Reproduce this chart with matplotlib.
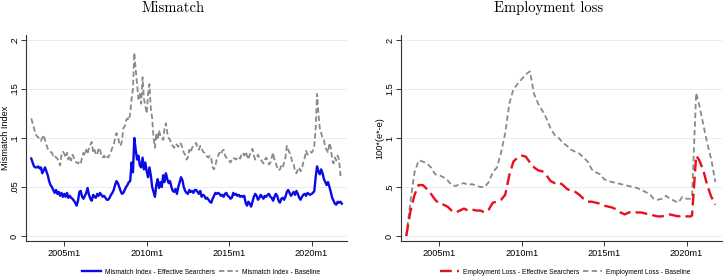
import numpy as np
import matplotlib
matplotlib.use("Agg")
import matplotlib.pyplot as plt

# ---------------- Data ----------------
# Monthly series, 2003m1 .. 2021m11
mm_start = "2003m1"
mismatch_eff = [
    .079,.075,.071,.070,.070,.071,.069,.070,.064,.067,.070,.066,
    .062,.056,.052,.050,.047,.044,.047,.043,.045,.041,.044,.040,
    .043,.040,.044,.039,.041,.039,.038,.036,.034,.031,.036,.045,
    .046,.040,.038,.041,.044,.049,.042,.038,.036,.042,.040,.039,
    .043,.041,.044,.042,.040,.041,.039,.037,.037,.039,.042,.044,
    .047,.052,.056,.054,.050,.046,.043,.044,.047,.050,.052,.055,
    .056,.075,.065,.100,.088,.078,.082,.072,.070,.080,.068,.075,
    .066,.060,.070,.062,.050,.045,.040,.052,.058,.049,.055,.050,
    .062,.055,.064,.058,.054,.056,.050,.046,.045,.048,.043,.050,
    .055,.060,.057,.050,.046,.044,.043,.047,.045,.046,.044,.047,
    .047,.045,.043,.046,.040,.042,.041,.038,.039,.037,.035,.034,
    .038,.041,.044,.043,.044,.043,.041,.042,.040,.043,.044,.041,
    .040,.038,.039,.044,.042,.043,.041,.042,.040,.041,.040,.041,
    .034,.031,.035,.033,.030,.035,.040,.043,.041,.037,.039,.042,
    .040,.038,.041,.040,.042,.043,.040,.039,.036,.040,.043,.041,
    .036,.034,.038,.039,.037,.040,.045,.047,.044,.041,.043,.045,
    .042,.046,.043,.039,.037,.040,.042,.043,.041,.044,.043,.042,
    .043,.044,.046,.060,.071,.066,.063,.068,.064,.058,.055,.052,
    .055,.050,.045,.039,.036,.033,.032,.035,.034,.035,.033,
]
mismatch_base = [
    .120,.115,.110,.104,.102,.101,.098,.097,.100,.103,.098,.093,
    .089,.087,.086,.085,.082,.083,.080,.079,.076,.072,.083,.086,
    .084,.080,.085,.078,.082,.077,.083,.080,.076,.075,.074,.076,
    .074,.080,.085,.082,.088,.084,.090,.093,.096,.085,.088,.083,
    .083,.090,.088,.082,.080,.082,.079,.081,.080,.083,.086,.090,
    .093,.100,.105,.102,.095,.092,.097,.110,.112,.118,.120,.118,
    .125,.140,.150,.187,.170,.155,.140,.145,.135,.162,.140,.133,
    .125,.145,.155,.130,.120,.100,.090,.105,.098,.108,.102,.100,
    .098,.110,.115,.105,.100,.098,.094,.092,.090,.094,.093,.091,
    .095,.094,.090,.085,.083,.078,.080,.088,.085,.090,.092,.093,
    .095,.090,.088,.092,.089,.086,.085,.083,.081,.080,.082,.079,
    .070,.068,.072,.078,.082,.085,.083,.087,.088,.082,.080,.078,
    .077,.075,.078,.080,.079,.078,.080,.081,.079,.083,.085,.082,
    .086,.082,.078,.083,.086,.089,.082,.078,.080,.083,.079,.078,
    .076,.074,.078,.080,.077,.073,.075,.080,.085,.078,.074,.070,
    .067,.068,.072,.070,.075,.080,.092,.088,.085,.081,.075,.073,
    .066,.064,.068,.070,.066,.069,.075,.080,.087,.083,.085,.086,
    .085,.087,.092,.110,.145,.125,.110,.105,.100,.098,.090,.088,
    .085,.095,.090,.078,.074,.080,.077,.082,.078,.062,.065,
]

# Employment loss: dates (Stata monthly labels) and values
el_dates = [
    "2003m1","2003m4","2003m7","2003m10","2004m1","2004m4","2004m7","2004m10",
    "2005m1","2005m4","2005m7","2005m10","2006m1","2006m4","2006m7","2006m10",
    "2007m1","2007m4","2007m7","2007m10","2008m1","2008m4","2008m7","2008m10",
    "2009m1","2009m4","2009m7","2009m10","2010m1","2010m4","2010m7","2010m10",
    "2011m1","2011m4","2011m7","2011m10","2012m1","2012m4","2012m7","2012m10",
    "2013m1","2013m4","2013m7","2013m10","2014m1","2014m4","2014m7","2014m10",
    "2015m1","2015m4","2015m7","2015m10","2016m1","2016m4","2016m7","2016m10",
    "2017m1","2017m4","2017m7","2017m10","2018m1","2018m4","2018m7","2018m10",
    "2019m1","2019m4","2019m7","2019m10","2020m1","2020m4","2020m5","2020m8",
    "2020m10","2021m1","2021m4","2021m7","2021m10",
]
emp_loss_eff = [
    0.00,0.25,0.42,0.52,0.52,0.48,0.43,0.37,
    0.33,0.32,0.30,0.26,0.24,0.26,0.28,0.26,
    0.27,0.26,0.26,0.24,0.27,0.34,0.35,0.37,
    0.42,0.62,0.76,0.80,0.82,0.81,0.75,0.70,
    0.67,0.66,0.62,0.56,0.54,0.55,0.52,0.48,
    0.46,0.45,0.42,0.38,0.35,0.35,0.34,0.33,
    0.31,0.30,0.29,0.27,0.24,0.22,0.24,0.25,
    0.24,0.24,0.23,0.22,0.21,0.20,0.20,0.21,
    0.22,0.21,0.20,0.21,0.20,0.20,0.21,0.82,
    0.78,0.68,0.52,0.40,0.32,
]
emp_loss_base = [
    0.00,0.35,0.65,0.77,0.76,0.74,0.70,0.63,
    0.62,0.60,0.57,0.52,0.51,0.53,0.54,0.52,
    0.53,0.51,0.50,0.50,0.55,0.65,0.70,0.85,
    1.05,1.35,1.50,1.55,1.60,1.65,1.68,1.45,
    1.35,1.28,1.20,1.10,1.03,1.00,0.95,0.92,
    0.88,0.86,0.84,0.80,0.76,0.68,0.65,0.63,
    0.58,0.56,0.55,0.54,0.53,0.52,0.51,0.50,
    0.49,0.47,0.45,0.43,0.38,0.37,0.38,0.41,
    0.38,0.36,0.34,0.40,0.38,0.38,0.40,1.46,
    1.35,1.15,0.95,0.78,0.55,
]

x_ticks = ["2005m1", "2010m1", "2015m1", "2020m1"]
left_yticks = [0, .05, .1, .15, .2]
left_yticklabels = ["0", ".05", ".1", ".15", ".2"]
right_yticks = [0, .5, 1, 1.5, 2]
right_yticklabels = ["0", ".5", "1", "1.5", "2"]


def tm(s):
    y, m = s.split("m")
    return int(y) + (int(m) - 1) / 12.0


t0 = tm(mm_start)
mm_t = t0 + np.arange(len(mismatch_eff)) / 12.0
el_t = np.array([tm(d) for d in el_dates])
xt = [tm(s) for s in x_ticks]

# ---------------- Figure ----------------
W, H = 724, 278
fig = plt.figure(figsize=(W / 100, H / 100), dpi=100)
sans = "Liberation Sans"
serif = "cmr10"


def px_axes(x0, x1, y0, y1):
    return fig.add_axes([x0 / W, 1 - y1 / H, (x1 - x0) / W, (y1 - y0) / H])


axL = px_axes(26, 347, 35, 241)
axR = px_axes(401, 722, 35, 241)

gray = "#8a8a8a"
axL.plot(mm_t, mismatch_eff, color="#0a0ae6", lw=1.7, solid_joinstyle="round",
         label="Mismatch Index - Effective Searchers", zorder=3)
axL.plot(mm_t, mismatch_base, color=gray, lw=1.3, dashes=(3, 1.6),
         label="Mismatch Index - Baseline", zorder=2)

axR.plot(el_t, emp_loss_eff, color="#e8101c", lw=1.7, dashes=(5, 2.2),
         label="Employment Loss - Effective Searchers", zorder=3)
axR.plot(el_t, emp_loss_base, color=gray, lw=1.3, dashes=(3, 1.8),
         label="Employment Loss - Baseline", zorder=2)

for ax, ytk, ylab, ylim, ylabel in [
    (axL, left_yticks, left_yticklabels, (-0.0051, 0.2051), "Mismatch Index"),
    (axR, right_yticks, right_yticklabels, (-0.051, 2.051), "100*(e*-e)"),
]:
    ax.set_xlim(2002.68, 2022.15)
    ax.set_ylim(*ylim)
    ax.set_xticks(xt)
    ax.set_xticklabels(x_ticks, fontsize=6.6, family=sans)
    ax.set_yticks(ytk)
    ax.set_yticklabels(ylab, fontsize=6.6, family=sans, rotation=90, va="center")
    ax.tick_params(axis="both", length=3.5, width=0.7, color="#333333", pad=2.5)
    ax.tick_params(axis="y", pad=1.5)
    for s in ["top", "right"]:
        ax.spines[s].set_visible(False)
    for s in ["left", "bottom"]:
        ax.spines[s].set_color("#333333")
        ax.spines[s].set_linewidth(0.8)
    ax.grid(axis="y", color="#ececec", lw=0.7)
    ax.set_axisbelow(True)
    ax.set_ylabel(ylabel, fontsize=6.6, family=sans, va="center")
    ax.yaxis.set_label_coords(-21 / 321, 0.5)

fig.text(173 / W, 1 - 1 / H, "Mismatch", ha="center", va="top",
         fontsize=10.5, family=serif)
fig.text(549 / W, 1 - 1 / H, "Employment loss", ha="center", va="top",
         fontsize=10.5, family=serif)

for ax, cx in [(axL, 201), (axR, 565)]:
    h, l = ax.get_legend_handles_labels()
    fig.legend(h, l, loc="center", bbox_to_anchor=(cx / W, 1 - 272 / H),
               ncol=2, frameon=False, prop={"family": sans, "size": 4.8},
               handlelength=2.8, handletextpad=0.6, columnspacing=0.6,
               borderpad=0, borderaxespad=0)

fig.savefig("out.png", dpi=100)
